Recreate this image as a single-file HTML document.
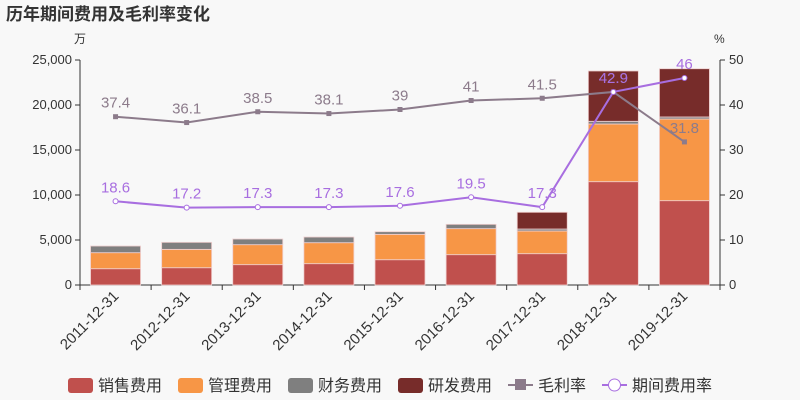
<!DOCTYPE html>
<html><head><meta charset="utf-8"><style>
body{margin:0;background:#f8f8f8;}
svg{font-family:"Liberation Sans","Noto Sans CJK SC",sans-serif;display:block}
</style></head><body>
<svg id="c" width="800" height="400">
<rect width="800" height="400" fill="#f8f8f8"/>
<text x="6" y="20" font-size="17" font-weight="bold" fill="#333">历年期间费用及毛利率变化</text>
<text x="74" y="43" font-size="12" fill="#333">万</text>
<text x="714" y="43" font-size="12" fill="#333">%</text>
<g id="g"></g>
</svg>
<script>
const categories=["2011-12-31","2012-12-31","2013-12-31","2014-12-31","2015-12-31","2016-12-31","2017-12-31","2018-12-31","2019-12-31"];
const sales=[1810,1920,2260,2370,2810,3370,3480,11480,9370];
const admin=[1780,2040,2220,2330,2820,2890,2520,6410,9070];
const finance=[740,780,630,630,290,480,220,300,230];
const rnd=[0,0,0,0,0,0,1860,5590,5360];
const grossMargin=[37.4,36.1,38.5,38.1,39,41,41.5,42.9,31.8];
const periodRate=[18.6,17.2,17.3,17.3,17.6,19.5,17.3,42.9,46];
const leftTicks=[0,5000,10000,15000,20000,25000];
const leftTickLabels=["0","5,000","10,000","15,000","20,000","25,000"];
const rightTicks=[0,10,20,30,40,50];
const NS="http://www.w3.org/2000/svg";
const g=document.getElementById('g');
const X0=80,X1=720,Y0=285,Y1=60;
const bw=(X1-X0)/categories.length;
const xc=i=>X0+bw*(i+0.5);
const yL=v=>Y0-(v/25000)*(Y0-Y1);
const yR=v=>Y0-(v/50)*(Y0-Y1);
function el(t,a,txt){const e=document.createElementNS(NS,t);for(const k in a)e.setAttribute(k,a[k]);if(txt!=null)e.textContent=txt;g.appendChild(e);return e;}
// axes
let ax=el('line',{x1:X0,y1:Y0,x2:X1,y2:Y0,stroke:'#333'});


ax=el('line',{x1:X0,y1:Y0,x2:X0,y2:Y1,stroke:'#333'});


ax=el('line',{x1:X1,y1:Y0,x2:X1,y2:Y1,stroke:'#333'});


leftTicks.forEach((v,i)=>{el('line',{x1:X0-5,x2:X0,y1:yL(v),y2:yL(v),stroke:'#333'});
 const t=el('text',{x:X0-8,y:yL(v)+4,'text-anchor':'end','font-size':13,fill:'#333'},leftTickLabels[i]);
 
 });
rightTicks.forEach(v=>{el('line',{x1:X1,x2:X1+5,y1:yR(v),y2:yR(v),stroke:'#333'});
 const t=el('text',{x:X1+9,y:yR(v)+4,'font-size':13,fill:'#333'},String(v));
 
 });
for(let i=0;i<=categories.length;i++)el('line',{x1:X0+bw*i,x2:X0+bw*i,y1:Y0,y2:Y0+5,stroke:'#333'});
categories.forEach((c,i)=>{const t=el('text',{x:xc(i)+4,y:Y0+12,'text-anchor':'end','font-size':15,fill:'#333',transform:`rotate(-45 ${xc(i)+4} ${Y0+12})`},c);
 
 });
// bars
const series=[[sales,'#c0504d','sales'],[admin,'#f79646','admin'],[finance,'#7f7f7f','finance'],[rnd,'#772c2a','rnd']];
categories.forEach((c,i)=>{let base=0;series.forEach(([arr,col,n])=>{const v=arr[i];if(v>0){const r=el('rect',{x:xc(i)-25,width:50,y:yL(base+v),height:yL(base)-yL(base+v),fill:col,stroke:'#f0d0d0','stroke-width':0.8});
 
 }base+=v;});});
// lines
function line(arr,col,name,marker,labCol){const pts=arr.map((v,i)=>xc(i)+','+yR(v)).join(' ');
 const p=el('polyline',{points:pts,fill:'none',stroke:col,'stroke-width':2});
 
 
 arr.forEach((v,i)=>{let m;if(marker==='sq')m=el('rect',{x:xc(i)-2.5,y:yR(v)-2.5,width:5,height:5,fill:col});else m=el('circle',{cx:xc(i),cy:yR(v),r:2.5,fill:'#fff',stroke:col});
  
  
  const t=el('text',{x:xc(i),y:yR(v)-9,'text-anchor':'middle','font-size':15,fill:labCol},String(v));
  
  });}
line(grossMargin,'#8c7b8b','gross-margin','sq','#8c7b8b');
line(periodRate,'#a86ee0','period-rate','ci','#a86ee0');
// legend
const leg=[['销售费用','#c0504d','b'],['管理费用','#f79646','b'],['财务费用','#7f7f7f','b'],['研发费用','#772c2a','b'],['毛利率','#8c7b8b','s'],['期间费用率','#a86ee0','c']];
let lx=68;
leg.forEach(([n,col,k])=>{const grp=document.createElementNS(NS,'g');g.appendChild(grp);
 
 
 if(k==='b'){const r=document.createElementNS(NS,'rect');r.setAttribute('x',lx);r.setAttribute('y',378);r.setAttribute('width',25);r.setAttribute('height',15);r.setAttribute('rx',3);r.setAttribute('fill',col);grp.appendChild(r);}
 else{const l=document.createElementNS(NS,'line');l.setAttribute('x1',lx);l.setAttribute('x2',lx+25);l.setAttribute('y1',385);l.setAttribute('y2',385);l.setAttribute('stroke',col);l.setAttribute('stroke-width',2);grp.appendChild(l);
  let m;if(k==='s'){m=document.createElementNS(NS,'rect');m.setAttribute('x',lx+7);m.setAttribute('y',379);m.setAttribute('width',11);m.setAttribute('height',11);m.setAttribute('fill',col);}
  else{m=document.createElementNS(NS,'circle');m.setAttribute('cx',lx+12.5);m.setAttribute('cy',385);m.setAttribute('r',6);m.setAttribute('fill','#fff');m.setAttribute('stroke',col);}
  grp.appendChild(m);}
 const t=document.createElementNS(NS,'text');t.setAttribute('x',lx+30);t.setAttribute('y',391);t.setAttribute('font-size',16);t.setAttribute('fill','#333');t.textContent=n;grp.appendChild(t);
 lx+=30+n.length*16+16;});
</script>
</body></html>
